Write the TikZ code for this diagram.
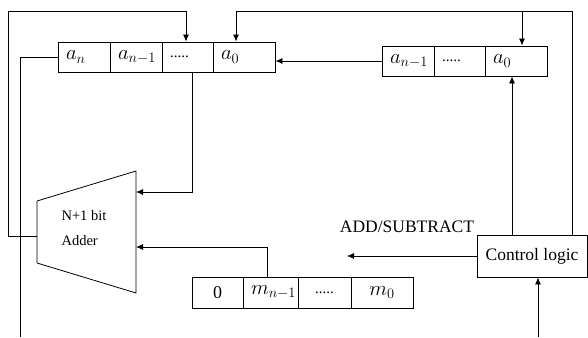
\documentclass[tikz,border=0pt]{standalone}
\usepackage{fontspec}
\setmainfont{Liberation Serif}
\usetikzlibrary{arrows.meta}
\begin{document}
\begin{tikzpicture}[x=1pt, y=-1pt, >={Latex[length=7pt,width=6pt]},
    wire/.style={line width=0.8pt},
    cell/.style={draw, line width=0.8pt, minimum height=30pt, inner xsep=8pt, inner ysep=0pt,
        align=left, font=\fontsize{20}{22}\selectfont},
    mcell/.style={cell, minimum height=31pt, align=center}]
    \useasboundingbox (0,0) rectangle (588,337);

    % register A
    \node[cell, text width=36pt] (An)   at (84,57)    {$a_n$};
    \node[cell, text width=36pt] (An1)  at (136,57)   {$a_{n-1}$};
    \node[cell, text width=35pt] (Adots) at (187.5,57) {\fontsize{15}{18}\selectfont .....};
    \node[cell, text width=46pt] (A0)   at (244,57)   {$a_0$};

    % register Q
    \node[cell, text width=36pt] (Qn1)  at (408,61)   {$a_{n-1}$};
    \node[cell, text width=35pt] (Qdots) at (459.5,61) {\fontsize{15}{18}\selectfont .....};
    \node[cell, text width=46pt] (Q0)   at (516,61)   {$a_0$};

    % register M
    \node[mcell, text width=35pt] (Mz)   at (217.5,292.5) {\fontsize{18}{20}\selectfont 0};
    \node[mcell, text width=39pt] (Mn1)  at (270.5,292.5) {$m_{n-1}$};
    \node[mcell, text width=37pt] (Mdots) at (324.5,292.5) {\fontsize{15}{18}\selectfont .....};
    \node[mcell, text width=46pt] (M0)   at (382,292.5)   {$m_0$};

    % adder
    \coordinate (adTL) at (37,201);
    \coordinate (adTR) at (136,171);
    \coordinate (adBR) at (136,293);
    \coordinate (adBL) at (37,263);
    \draw[wire] (adTL) -- (adTR) -- (adBR) -- (adBL) -- cycle;
    \node[anchor=west, align=left, font=\fontsize{14.5}{25}\selectfont] (adder) at (58,228) {N+1 bit\\Adder};
    \coordinate (adA) at (136,192);
    \coordinate (adM) at (136,247);
    \coordinate (adOut) at (37,236);

    % control logic
    \node[draw, line width=0.8pt, minimum width=110pt, minimum height=42pt,
        font=\fontsize{17.5}{20}\selectfont] (ctrl) at (532,256) {Control logic};
    \node[font=\fontsize{17.5}{20}\selectfont] (addsub) at (407,227) {ADD/SUBTRACT};

    \coordinate (loopL) at (8,11);
    \coordinate (loopR) at (572,11);
    \coordinate (anOut) at (20,337);
    \coordinate (addsubEnd) at (347,256);
    \coordinate (ctrlIn) at (538,337);

    % connections
    \draw[wire,->] (adOut) -| (loopL) -| ([xshift=-1.5pt]Adots.north);
    \draw[wire] (An.west) -| (anOut);
    \draw[wire,->] ([xshift=4.5pt]Adots.south) |- (adA);
    \draw[wire,->] (Qn1.west) -- (Qn1.west -| A0.east);
    \draw[wire,->] (ctrl.north -| loopR) -- (loopR) -| ([xshift=-8pt]A0.north);
    \draw[wire,->] ([xshift=6pt]Q0.north |- loopR) -- ([xshift=6pt]Q0.north);
    \draw[wire,->] ([xshift=-20pt]ctrl.north) -- ([xshift=-20pt]ctrl.north |- Q0.south);
    \draw[wire,->] (ctrl.west) -- (addsubEnd);
    \draw[wire,->] (ctrlIn) -- (ctrlIn |- ctrl.south);
    \draw[wire,->] ([xshift=-3.5pt]Mn1.north) |- (adM);
\end{tikzpicture}
\end{document}
